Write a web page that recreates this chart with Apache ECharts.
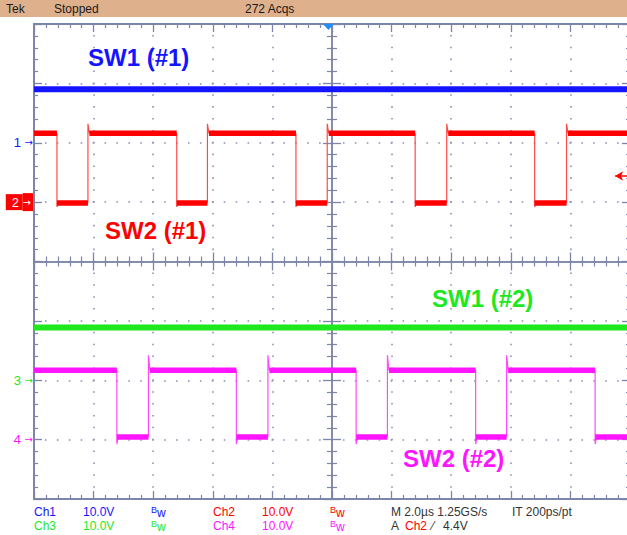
<!DOCTYPE html>
<html><head><meta charset="utf-8">
<script src="https://cdn.jsdelivr.net/npm/echarts@6/dist/echarts.min.js"></script>
<style>html,body{margin:0;padding:0;background:#fff}#c{width:627px;height:535px}</style>
</head><body><div id="c"></div>
<script>
// ---- scope settings ----
const TIME_MIN = -10, TIME_MAX = 10, TIME_DIV = 2;      // µs, 2 µs/div
const DIV_MIN = -4, DIV_MAX = 4, DIV_STEP = 1;          // vertical divisions
const VOLTS_PER_DIV = 10;
const CH_GROUND_DIV = [2, 1, -2, -3];                   // ground marker of Ch1..Ch4
const CH_MARKERS = ['1', '2', '3', '4'];
const CH_NAMES = ['SW1 (#1)', 'SW2 (#1)', 'SW1 (#2)', 'SW2 (#2)'];

// ---- values ----
const CH1_LEVEL = 9.0;   // V, flat
const CH3_LEVEL = 8.9;   // V, flat
const CH2_FALL = [-9.23, -5.21, -1.21, 2.79, 6.80];    // µs
const CH2_RISE = [-8.19, -4.18, -0.16, 3.85, 7.87];    // µs
const CH2_HIGH = 11.6, CH2_LOW = -0.15, CH2_OVERSHOOT = 13.2, CH2_UNDERSHOOT = -0.8;
const CH4_FALL = [-7.22, -3.21, 0.81, 4.82, 8.83];     // µs
const CH4_RISE = [-6.16, -2.15, 1.86, 5.86];           // µs
const CH4_HIGH = 11.7, CH4_LOW = 0.45, CH4_OVERSHOOT = 14.2, CH4_UNDERSHOOT = -0.75;
const TRIGGER_LEVEL = 4.4;     // V on Ch2
const TRIGGER_TIME = -0.12;    // µs
const TRIGGER_ARROW_FROM = 9.5;

const COLORS = ['#1414ff', '#ff0000', '#1ee81e', '#ff14ff'];
const EDGE_COLORS = ['#1414ff', '#ff4a4a', '#1ee81e', '#ff4aff'];

function toDiv(ch, v) { return CH_GROUND_DIV[ch] + v / VOLTS_PER_DIV; }

function squareTrace(ch, falls, rises, hi, lo, over, under) {
  const edges = falls.map(t => ({t, fall: true})).concat(rises.map(t => ({t, fall: false})))
    .sort((a, b) => a.t - b.t);
  const full = [[TIME_MIN, toDiv(ch, hi)]];
  const flat = [[TIME_MIN, toDiv(ch, hi)]];
  let level = hi;
  edges.forEach(e => {
    if (e.fall) {
      full.push([e.t, toDiv(ch, hi)], [e.t, toDiv(ch, under)], [e.t + 0.05, toDiv(ch, lo)]);
      flat.push([e.t, toDiv(ch, hi)], [e.t, null], [e.t, toDiv(ch, lo)]);
      level = lo;
    } else {
      full.push([e.t, toDiv(ch, lo)], [e.t, toDiv(ch, over)], [e.t + 0.05, toDiv(ch, hi)]);
      flat.push([e.t, toDiv(ch, lo)], [e.t, null], [e.t + 0.05, toDiv(ch, hi)]);
      level = hi;
    }
  });
  full.push([TIME_MAX, toDiv(ch, level)]);
  flat.push([TIME_MAX, toDiv(ch, level)]);
  return {full, flat};
}

const ch2 = squareTrace(1, CH2_FALL, CH2_RISE, CH2_HIGH, CH2_LOW, CH2_OVERSHOOT, CH2_UNDERSHOOT);
const ch4 = squareTrace(3, CH4_FALL, CH4_RISE, CH4_HIGH, CH4_LOW, CH4_OVERSHOOT, CH4_UNDERSHOOT);

const AXIS_COLOR = '#7d86a8';
const DOT_COLOR = '#8a92b4';
const FONT = '"Liberation Sans", Arial, sans-serif';

function xAxisCfg(pos, center, grid) {
  return {
    type: 'value', min: TIME_MIN, max: TIME_MAX, interval: TIME_DIV, position: pos,
    axisLine: center ? {show: true, onZero: true, onZeroAxisIndex: 0, lineStyle: {color: AXIS_COLOR, width: 1.5}}
                     : {show: true, onZero: false, lineStyle: {color: AXIS_COLOR, width: 2}},
    axisTick: {show: true, inside: true, length: center ? 9 : 8, lineStyle: {color: AXIS_COLOR, width: 1.3}},
    minorTick: {show: true, splitNumber: 5, length: center ? 5 : 4, lineStyle: {color: AXIS_COLOR, width: 1.2}},
    axisLabel: {show: false},
    splitLine: grid ? {show: true, lineStyle: {color: DOT_COLOR, width: 1.6, type: [1.6, 10.275], dashOffset: 0.8}} : {show: false},
    minorSplitLine: {show: false}
  };
}
function yAxisCfg(pos, center, grid, labels) {
  return {
    type: 'value', min: DIV_MIN, max: DIV_MAX, interval: DIV_STEP, position: pos,
    axisLine: center ? {show: true, onZero: true, onZeroAxisIndex: 0, lineStyle: {color: AXIS_COLOR, width: 1.5}}
                     : {show: true, onZero: false, lineStyle: {color: AXIS_COLOR, width: 2}},
    axisTick: {show: true, inside: true, length: center ? 9 : 8, lineStyle: {color: AXIS_COLOR, width: 1.3}},
    minorTick: {show: true, splitNumber: 5, length: center ? 5 : 4, lineStyle: {color: AXIS_COLOR, width: 1.2}},
    axisLabel: labels ? {
      show: true, margin: 1,
      formatter: v => {
        const i = CH_GROUND_DIV.indexOf(v);
        return i < 0 ? '' : '{m' + i + '|' + CH_MARKERS[i] + ' }{a' + i + '|→}';
      },
      rich: {
        m0: {color: COLORS[0], fontSize: 13, fontFamily: FONT},
        a0: {color: COLORS[0], fontSize: 10, fontFamily: 'DejaVu Sans'},
        m1: {color: '#fff', fontSize: 13, fontFamily: FONT, backgroundColor: '#ff0000', padding: [2, 0, 1, 6], height: 13},
        a1: {color: '#fff', fontSize: 10, fontFamily: 'DejaVu Sans', backgroundColor: '#ff0000', padding: [3, 2, 2, 0], height: 13},
        m2: {color: COLORS[2], fontSize: 13, fontFamily: FONT},
        a2: {color: COLORS[2], fontSize: 10, fontFamily: 'DejaVu Sans'},
        m3: {color: COLORS[3], fontSize: 13, fontFamily: FONT},
        a3: {color: COLORS[3], fontSize: 10, fontFamily: 'DejaVu Sans'}
      }
    } : {show: false},
    splitLine: grid ? {show: true, lineStyle: {color: DOT_COLOR, width: 1.6, type: [1.6, 10.32], dashOffset: 0.8}} : {show: false},
    minorSplitLine: {show: false}
  };
}

function txt(x, y, text, color, font, extra) {
  return Object.assign({type: 'text', x: x, y: y, silent: true, z: 10,
    style: {text: text, fill: color, font: font || ('12px ' + FONT), verticalAlign: 'middle'}}, extra || {});
}
function bw(x, y, color) {
  return {type: 'text', x: x, y: y, silent: true, z: 10,
    style: {text: '{b|B}{w|w}', fill: color, verticalAlign: 'middle',
      rich: {b: {fontSize: 9, fontFamily: FONT, fill: color, verticalAlign: 'top', lineHeight: 14},
             w: {fontSize: 12, fontFamily: FONT, fill: color, verticalAlign: 'bottom', lineHeight: 14}}}};
}

const TITLE_FONT = 'bold 24px ' + FONT;
const ROW1 = 512, ROW2 = 526;

const option = {
  animation: false,
  backgroundColor: '#ffffff',
  grid: {left: 34, top: 24, width: 596, height: 475, containLabel: false, outerBoundsMode: 'none'},
  xAxis: [xAxisCfg('bottom', false, true), xAxisCfg('top', false, false),
          xAxisCfg('bottom', true, false), xAxisCfg('top', true, false)],
  yAxis: [yAxisCfg('left', false, true, true), yAxisCfg('right', false, false, false),
          yAxisCfg('left', true, false, false), yAxisCfg('right', true, false, false)],
  series: [
    {name: CH_NAMES[0], type: 'line', showSymbol: false, silent: true, z: 3,
     data: [[TIME_MIN, toDiv(0, CH1_LEVEL)], [TIME_MAX, toDiv(0, CH1_LEVEL)]],
     lineStyle: {color: COLORS[0], width: 6, cap: 'butt'}},
    {name: CH_NAMES[1] + ' edges', type: 'line', showSymbol: false, silent: true, z: 3,
     data: ch2.full, lineStyle: {color: EDGE_COLORS[1], width: 1.2},
     markLine: {silent: true, animation: false, symbol: ['arrow', 'none'], symbolSize: [7, 8],
       label: {show: false}, lineStyle: {color: '#ff0000', width: 1.5, type: 'solid'},
       data: [[{coord: [TRIGGER_ARROW_FROM, toDiv(1, TRIGGER_LEVEL)]}, {coord: [TIME_MAX, toDiv(1, TRIGGER_LEVEL)]}]]},
     markPoint: {silent: true, animation: false, symbol: 'triangle', symbolRotate: 180, symbolSize: [11, 6],
       symbolOffset: [0, 3], label: {show: false}, itemStyle: {color: '#1e8fff'},
       data: [{coord: [TRIGGER_TIME, DIV_MAX]}]}},
    {name: CH_NAMES[1], type: 'line', showSymbol: false, silent: true, z: 4, connectNulls: false,
     data: ch2.flat, lineStyle: {color: COLORS[1], width: 5.5, cap: 'butt'}},
    {name: CH_NAMES[2], type: 'line', showSymbol: false, silent: true, z: 3,
     data: [[TIME_MIN, toDiv(2, CH3_LEVEL)], [TIME_MAX, toDiv(2, CH3_LEVEL)]],
     lineStyle: {color: COLORS[2], width: 6, cap: 'butt'}},
    {name: CH_NAMES[3] + ' edges', type: 'line', showSymbol: false, silent: true, z: 3,
     data: ch4.full, lineStyle: {color: EDGE_COLORS[3], width: 1.2}},
    {name: CH_NAMES[3], type: 'line', showSymbol: false, silent: true, z: 4, connectNulls: false,
     data: ch4.flat, lineStyle: {color: COLORS[3], width: 5.5, cap: 'butt'}}
  ],
  graphic: [
    {type: 'rect', shape: {x: 0, y: 0, width: 627, height: 17}, style: {fill: '#deb08c'}, silent: true, z: 5},
    txt(6, 9, 'Tek', '#1a1a1a'),
    txt(54, 9, 'Stopped', '#1a1a1a'),
    txt(245, 9, '272 Acqs', '#1a1a1a'),
    txt(88, 57, CH_NAMES[0], COLORS[0], TITLE_FONT),
    txt(105, 230, CH_NAMES[1], COLORS[1], TITLE_FONT),
    txt(432, 298, CH_NAMES[2], COLORS[2], TITLE_FONT),
    txt(403, 458, CH_NAMES[3], COLORS[3], TITLE_FONT),
    txt(34, ROW1, 'Ch1', COLORS[0]),
    txt(83, ROW1, '10.0V', COLORS[0]),
    bw(151, ROW1, COLORS[0]),
    txt(213, ROW1, 'Ch2', COLORS[1]),
    txt(262, ROW1, '10.0V', COLORS[1]),
    bw(330, ROW1, COLORS[1]),
    txt(391, ROW1, 'M 2.0µs 1.25GS/s', '#333'),
    txt(512, ROW1, 'IT 200ps/pt', '#333'),
    txt(34, ROW2, 'Ch3', COLORS[2]),
    txt(83, ROW2, '10.0V', COLORS[2]),
    bw(151, ROW2, COLORS[2]),
    txt(213, ROW2, 'Ch4', COLORS[3]),
    txt(262, ROW2, '10.0V', COLORS[3]),
    bw(330, ROW2, COLORS[3]),
    txt(391, ROW2, 'A', '#333'),
    txt(405, ROW2, 'Ch2', COLORS[1]),
    txt(432, ROW2, '⁄', '#333'),
    txt(443, ROW2, TRIGGER_LEVEL.toFixed(1) + 'V', '#333')
  ]
};

const chart = echarts.init(document.getElementById('c'), null, {renderer: 'svg', width: 627, height: 535});
chart.setOption(option);
</script>
</body></html>
